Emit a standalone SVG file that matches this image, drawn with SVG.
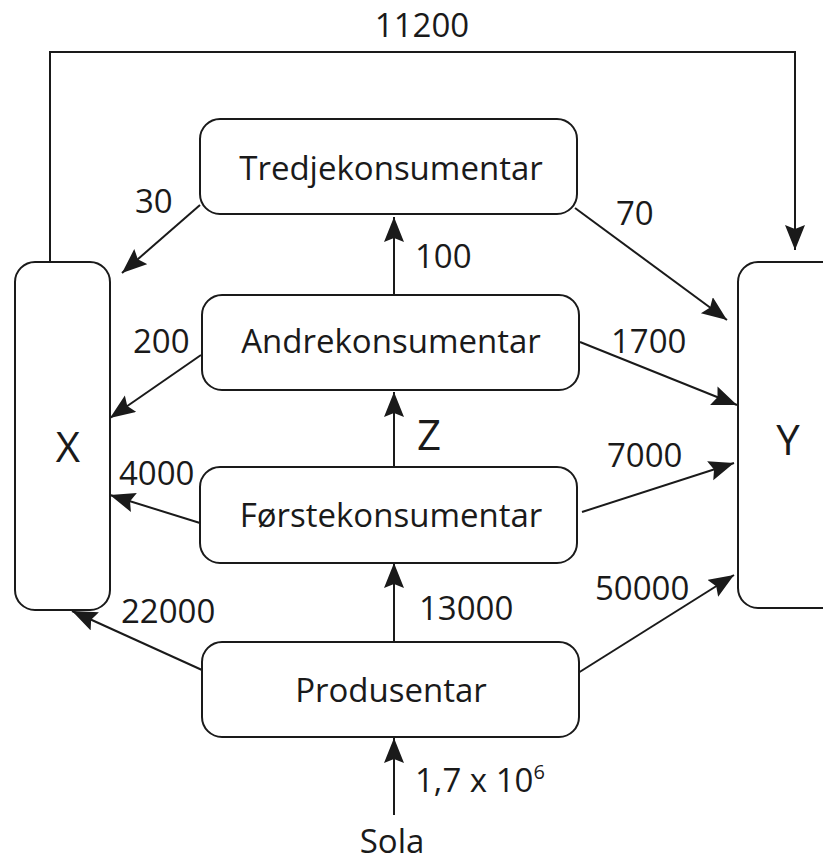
<svg xmlns="http://www.w3.org/2000/svg" width="823" height="864" viewBox="0 0 823 864">
  <style>
    .box { fill: #ffffff; stroke: #1a1a1a; stroke-width: 2; }
    .lbl { font-family: "Open Sans", "Noto Sans", "Liberation Sans", sans-serif; font-size: 33px; fill: #1a1a1a; }
    .big { font-size: 42px; }
    .mid { text-anchor: middle; }
    .edge { fill: none; stroke: #1a1a1a; stroke-width: 2; marker-end: url(#head); }
  </style>
  <defs>
    <marker id="head" markerUnits="userSpaceOnUse" markerWidth="28" markerHeight="22" refX="25" refY="10" orient="auto">
      <path d="M0,0 L25,10 L0,20 L4,10 Z" fill="#1a1a1a"/>
    </marker>
  </defs>
  <rect width="823" height="864" fill="#ffffff"/>

  <!-- energy flows -->
  <g id="connectors">
    <polyline class="edge" points="50,265 50,52 795,52 795,250"/>
    <line class="edge" x1="200" y1="205" x2="122" y2="273"/>
    <line class="edge" x1="575" y1="208" x2="727" y2="320"/>
    <line class="edge" x1="394" y1="295" x2="394" y2="217"/>
    <line class="edge" x1="201" y1="355" x2="110" y2="418"/>
    <line class="edge" x1="580" y1="342" x2="737" y2="405"/>
    <line class="edge" x1="394" y1="468" x2="394" y2="392"/>
    <line class="edge" x1="200" y1="523" x2="110" y2="495"/>
    <line class="edge" x1="582" y1="512" x2="734" y2="463"/>
    <line class="edge" x1="202" y1="670" x2="72" y2="611"/>
    <line class="edge" x1="394" y1="642" x2="394" y2="563"/>
    <line class="edge" x1="578" y1="673" x2="734" y2="575"/>
    <line class="edge" x1="394" y1="815" x2="394" y2="738"/>
  </g>

  <!-- flow values -->
  <g id="flow-labels" class="lbl">
    <text x="422" y="37" class="mid">11200</text>
    <text x="135" y="213">30</text>
    <text x="616" y="225">70</text>
    <text x="415" y="268">100</text>
    <text x="133" y="353">200</text>
    <text x="611" y="353">1700</text>
    <text x="417" y="450" class="big">Z</text>
    <text x="119" y="485">4000</text>
    <text x="607" y="467">7000</text>
    <text x="121" y="623">22000</text>
    <text x="419" y="620">13000</text>
    <text x="595" y="600">50000</text>
    <text x="415" y="792">1,7 x 10<tspan font-size="20" dy="-13">6</tspan></text>
  </g>

  <g id="x">
    <rect class="box" x="15" y="262" width="95" height="348" rx="20"/>
    <text class="lbl big mid" x="68" y="462">X</text>
  </g>
  <g id="y">
    <rect class="box" x="738" y="262" width="110" height="346" rx="20"/>
    <text class="lbl big mid" x="788" y="455">Y</text>
  </g>
  <g id="tredjekonsumentar">
    <rect class="box" x="200" y="119" width="377" height="95" rx="20"/>
    <text class="lbl mid" x="391" y="180">Tredjekonsumentar</text>
  </g>
  <g id="andrekonsumentar">
    <rect class="box" x="202" y="295" width="377" height="95" rx="20"/>
    <text class="lbl mid" x="391" y="353">Andrekonsumentar</text>
  </g>
  <g id="forstekonsumentar">
    <rect class="box" x="200" y="467" width="377" height="96" rx="20"/>
    <text class="lbl mid" x="391" y="527">Førstekonsumentar</text>
  </g>
  <g id="produsentar">
    <rect class="box" x="202" y="642" width="377" height="95" rx="20"/>
    <text class="lbl mid" x="391" y="702">Produsentar</text>
  </g>
  <g id="sola">
    <text class="lbl mid" x="392" y="853">Sola</text>
  </g>
</svg>
